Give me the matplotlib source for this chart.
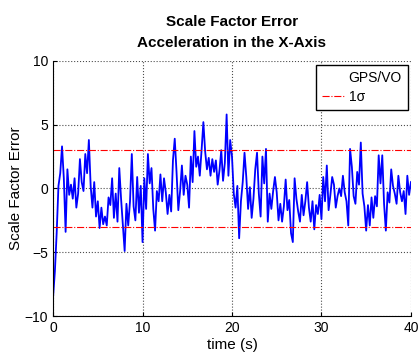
import numpy as np
import matplotlib.pyplot as plt
from matplotlib.lines import Line2D

plt.rcParams['font.family'] = ['Liberation Sans', 'DejaVu Sans']

# sample spacing of the trace (s)
DT = 0.2

# scale factor error, 5 samples per second
err = [
    -8.5, -6.5, -3.5, 0.2, 1.2,
    3.3, 0.8, -3.4, 1.5, -0.5,
    0.3, -0.8, 0.8, -1.5, -0.4,
    2.3, 0.5, -0.2, 2.7, 1.2,
    3.8, 0.2, -1.5, 0.5, -2.2,
    -1.0, -3.1, -1.5, -2.8, -2.2,
    -2.9, -0.7, -1.3, 0.8, -2.3,
    -0.4, -2.6, 1.6, -0.8, -2.8,
    -4.9, -1.2, -2.9, -1.0, 2.7,
    -1.4, -2.5, 0.9, -1.9, 0.2,
    -4.2, 0.8, -1.6, 2.7, 0.4,
    1.6, -1.6, -3.3, -0.2, -1.0,
    1.1, -1.0, 0.8, -0.3, -2.0,
    -0.5, -1.8, 2.2, 3.9, 1.3,
    -1.7, -0.2, 1.8, -0.5, 1.0,
    0.3, -1.5, 2.5, 0.5, 4.5,
    1.7, 2.5, 1.0, 3.0, 5.2,
    2.9, 1.5, 2.4, 1.0, 2.3,
    1.3, 2.2, 0.3, 1.4, 3.0,
    0.6, 2.0, 5.8, 1.0, 3.8,
    2.5, -0.4, -1.5, 0.2, -3.9,
    -1.0, 0.5, 2.8, 0.9, -1.6,
    0.1, -2.3, -0.8, 1.5, 2.8,
    -0.4, -2.2, 2.5, 0.4, 3.1,
    -2.6, -0.4, -1.6, -0.2, 0.9,
    -0.3, -2.5, -1.2, -2.6, -1.4,
    0.7, -1.7, -0.9, -3.5, -4.2,
    0.8, -0.8, -1.8, -2.6, -0.5,
    -2.1, -1.0, 0.5, -1.5, -2.6,
    -1.0, -3.2, -1.3, -2.0, -0.5,
    -2.4, 0.9, -1.0, 1.8, -1.7,
    -0.5, 0.9, 0.3, -1.5, -0.6,
    0.0, -0.6, 1.0, -0.3, -1.0,
    -2.9, 3.1, 1.7, -0.6, -1.2,
    1.3, 0.3, 3.6, -0.4, -1.4,
    -3.3, -1.3, -2.9, -0.7, -2.3,
    -0.6, -1.4, 2.6, 0.4, 2.6,
    -1.2, -3.3, -0.3, -1.1, 1.5,
    0.2, -0.4, -1.2, 1.0, -0.3,
    -1.0, -0.2, -2.0, 1.0, -0.5,
    0.5,
]
t = np.arange(len(err)) * DT

sigma = 3.0
t_span = [0, 40]

fig = plt.figure(figsize=(4.18, 3.58), dpi=100)
ax = fig.add_axes([0.127, 0.117, 0.856, 0.713])

ax.plot(t, err, color='blue', lw=1.3)
ax.plot(t_span, [sigma, sigma], color='red', ls='-.', lw=0.8)
ax.plot(t_span, [-sigma, -sigma], color='red', ls='-.', lw=0.8)

ax.set_xlim(0, 40)
ax.set_ylim(-10, 10)
ax.set_xticks([0, 10, 20, 30, 40])
ax.set_yticks([-10, -5, 0, 5, 10])
ax.grid(True, color='0.3', ls=':', lw=0.8)
ax.spines['top'].set_visible(False)
ax.spines['right'].set_visible(False)
ax.tick_params(direction='in', length=3, labelsize=10)

ax.set_xlabel('time (s)', fontsize=11, labelpad=2)
ax.set_ylabel('Scale Factor Error', fontsize=11, labelpad=1)
ax.set_title('Scale Factor Error\nAcceleration in the X-Axis',
             fontsize=11, fontweight='bold', linespacing=1.6, pad=10)

handles = [Line2D([], [], color='none'),
           Line2D([], [], color='red', ls='-.', lw=0.8)]
leg = ax.legend(handles, ['GPS/VO', '1\u03c3'], loc='upper right',
                bbox_to_anchor=(0.992, 0.984), borderaxespad=0,
                fancybox=False, edgecolor='black', framealpha=1,
                fontsize=10, handlelength=1.6, handletextpad=0.3,
                borderpad=0.45, labelspacing=0.35)
leg.get_frame().set_linewidth(1.0)

fig.savefig('out.png', dpi=100)
